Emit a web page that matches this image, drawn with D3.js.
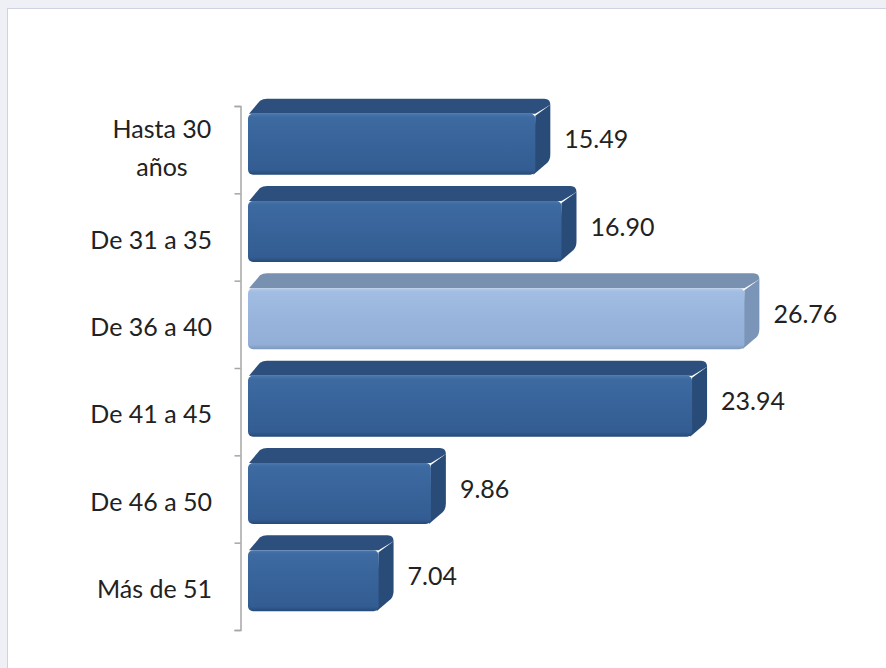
<!DOCTYPE html>
<html>
<head>
<meta charset="utf-8">
<script src="https://cdn.jsdelivr.net/npm/d3@7"></script>
<style>
  body { margin: 0; background: #eef0f6; }
  svg { display: block; }
</style>
</head>
<body>
<div id="chart"></div>
<script>
// data
var categories = ["Hasta 30 años", "De 31 a 35", "De 36 a 40", "De 41 a 45", "De 46 a 50", "Más de 51"];
var values = [15.49, 16.90, 26.76, 23.94, 9.86, 7.04];
var highlighted = ["De 36 a 40"];

var svgWidth = 886;
var svgHeight = 668;

var svg = d3.select("#chart")
  .append("svg")
  .attr("width", svgWidth)
  .attr("height", svgHeight);

// white panel
svg.append("rect")
  .attr("x", 7.5)
  .attr("y", 8.5)
  .attr("width", 900)
  .attr("height", 700)
  .attr("fill", "#ffffff")
  .attr("stroke", "#cfd2e3");

var top0 = 106, bottom0 = 630;
var depth = 15;

var xScale = d3.scaleLinear()
  .domain([0, 28])
  .range([248, 248 + 28 * 18.55]);

var yScale = d3.scaleBand()
  .domain(categories)
  .range([top0, bottom0]);

// axis with ticks on band edges
var edgeScale = d3.scaleLinear()
  .domain([0, categories.length])
  .range([top0, bottom0]);

var leftAxis = d3.axisLeft(edgeScale)
  .ticks(categories.length)
  .tickSize(6)
  .tickSizeOuter(6)
  .tickFormat("");

var axisG = svg.append("g")
  .attr("transform", "translate(240.5,0)")
  .call(leftAxis);
axisG.selectAll("path, line")
  .attr("stroke", "#a6a6a6")
  .attr("stroke-width", 1.5);

// gradients
var defs = svg.append("defs");
function grad(id, stops) {
  var g = defs.append("linearGradient")
    .attr("id", id)
    .attr("x1", 0).attr("y1", 0).attr("x2", 0).attr("y2", 1);
  stops.forEach(function(s) {
    g.append("stop").attr("offset", s[0]).attr("stop-color", s[1]);
  });
}
grad("frontDark", [[0, "#4a77ad"], [0.06, "#3d6aa0"], [0.5, "#37639a"], [0.92, "#335d92"], [1, "#264a78"]]);
grad("frontLight", [[0, "#b3cbea"], [0.06, "#a2bde2"], [0.5, "#98b4dc"], [0.92, "#93afd7"], [1, "#7d97bc"]]);

var palette = {
  dark: { front: "url(#frontDark)", top: "#2c4f7e", side: "#294b78" },
  light: { front: "url(#frontLight)", top: "#7891b0", side: "#7a95b8" }
};

var bars = svg.selectAll(".bar")
  .data(categories)
  .enter()
  .append("g")
  .attr("class", "bar");

bars.each(function(d, i) {
  var g = d3.select(this);
  var c = highlighted.indexOf(d) >= 0 ? palette.light : palette.dark;
  var x0 = xScale(0);
  var x1 = xScale(values[i]);
  var cy = yScale(d) + yScale.bandwidth() / 2;
  var fy0 = cy - 36;
  var fy1 = cy + 25;
  var r = 6;

  // top face
  g.append("path")
    .attr("d", "M" + (x0 + 1) + "," + fy0 +
      " L" + (x0 + depth - 3) + "," + (fy0 - depth + 2) +
      " Q" + (x0 + depth) + "," + (fy0 - depth) + " " + (x0 + depth + 4) + "," + (fy0 - depth) +
      " L" + (x1 + depth - r) + "," + (fy0 - depth) +
      " Q" + (x1 + depth) + "," + (fy0 - depth) + " " + (x1 + depth) + "," + (fy0 - depth + r) +
      " L" + x1 + "," + fy0 + " Z")
    .attr("fill", c.top);

  // side face
  g.append("path")
    .attr("d", "M" + x1 + "," + (fy0 + 2) +
      " L" + (x1 + depth) + "," + (fy0 - depth + r) +
      " L" + (x1 + depth) + "," + (fy1 - depth - r) +
      " Q" + (x1 + depth) + "," + (fy1 - depth) + " " + (x1 + depth - 3) + "," + (fy1 - depth + 3) +
      " L" + (x1 - 2) + "," + fy1 + " Z")
    .attr("fill", c.side);

  // front face
  g.append("rect")
    .attr("x", x0)
    .attr("y", fy0)
    .attr("width", x1 - x0)
    .attr("height", fy1 - fy0)
    .attr("rx", 5)
    .attr("fill", c.front);

  // value label
  g.append("text")
    .attr("x", x1 + depth + 14)
    .attr("y", cy - 10)
    .attr("dy", "0.35em")
    .attr("font-family", "Lato, 'Open Sans', sans-serif")
    .attr("font-size", "25px")
    .attr("fill", "#222222")
    .text(values[i].toFixed(2));
});

// category labels
var labelG = svg.append("g")
  .attr("font-family", "Lato, 'Open Sans', sans-serif")
  .attr("font-size", "25px")
  .attr("fill", "#222222");

categories.forEach(function(d) {
  var cy = yScale(d) + yScale.bandwidth() / 2;
  if (d === "Hasta 30 años") {
    var t = labelG.append("text")
      .attr("text-anchor", "middle")
      .attr("x", 162)
      .attr("y", cy - 20)
      .attr("dy", "0.35em");
    t.append("tspan").attr("x", 162).text("Hasta 30");
    t.append("tspan").attr("x", 162).attr("dy", "1.52em").text("años");
  } else {
    labelG.append("text")
      .attr("text-anchor", "end")
      .attr("x", 212)
      .attr("y", cy + 3)
      .attr("dy", "0.35em")
      .text(d);
  }
});
</script>
</body>
</html>
